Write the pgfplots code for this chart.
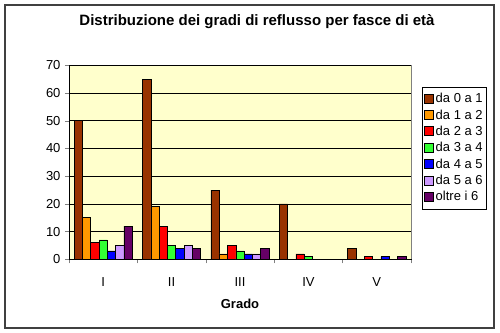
\documentclass[border=0pt]{standalone}
\usepackage{pgfplots}
\pgfplotsset{compat=1.18}
\usepackage{fontspec}
\setmainfont{Liberation Sans}
\definecolor{c1}{HTML}{993300}
\definecolor{c2}{HTML}{FF9900}
\definecolor{c3}{HTML}{FF0000}
\definecolor{c4}{HTML}{33FF33}
\definecolor{c5}{HTML}{0000FF}
\definecolor{c6}{HTML}{CC99FF}
\definecolor{c7}{HTML}{660066}
\definecolor{bgy}{HTML}{FFFFCC}
\begin{document}
\begin{tikzpicture}
\fontsize{13bp}{15bp}\selectfont
\useasboundingbox (0bp,0bp) rectangle (500bp,333bp);
\draw[black!75,line width=1.5bp] (5bp,5bp) rectangle (494bp,328bp);
\node[font=\bfseries\fontsize{15bp}{17bp}\selectfont] at (257bp,311bp) {Distribuzione dei gradi di reflusso per fasce di età};
\begin{axis}[
  at={(69bp,73.7bp)}, anchor=south west,
  scale only axis, width=342bp, height=194bp,
  /pgf/number format/assume math mode=true,
  axis background/.style={fill=bgy},
  ybar=0pt, bar width=8.3bp,
  xmin=-0.5, xmax=4.5, ymin=0, ymax=70,
  ytick={0,10,...,70},
  xtick={0,1,2,3,4}, xticklabels={I,II,III,IV,V},
  minor xtick={-0.5,0.5,1.5,2.5,3.5,4.5},
  major x tick style={draw=none},
  minor tick length=4bp, major tick length=4bp,
  tick align=outside, tick pos=left,
  ymajorgrids, grid style={black, line width=0.6bp},
  minor x grid style={draw=none},
  axis line style={black, line width=0.6bp},
  tick label style={font=\fontsize{13bp}{15bp}\selectfont},
  xticklabel style={yshift=-10bp},
  xlabel={\bfseries Grado}, xlabel style={font=\fontsize{13bp}{15bp}\selectfont, yshift=-3bp},
  legend cell align=left,
  legend style={at={(1.032,0.888)}, anchor=north west, draw=black, line width=0.6bp,
    font=\fontsize{13bp}{15bp}\selectfont, row sep=1bp, inner xsep=2bp, inner ysep=4bp},
  legend image code/.code={\draw[#1, draw=black, line width=0.5bp] (0bp,-4bp) rectangle (9bp,5bp);},
  every axis plot/.append style={draw=black, line width=0.5bp},
  after end axis/.code={\draw[gray, line width=0.8bp] (rel axis cs:1,0) -- (rel axis cs:1,1);},
]
\addplot[fill=c1] coordinates {(0,50) (1,65) (2,25) (3,20) (4,4)};
\addplot[fill=c2] coordinates {(0,15) (1,19) (2,2) (3,0) (4,0)};
\addplot[fill=c3] coordinates {(0,6) (1,12) (2,5) (3,2) (4,1)};
\addplot[fill=c4] coordinates {(0,7) (1,5) (2,3) (3,1) (4,0)};
\addplot[fill=c5] coordinates {(0,3) (1,4) (2,2) (3,0) (4,1)};
\addplot[fill=c6] coordinates {(0,5) (1,5) (2,2) (3,0) (4,0)};
\addplot[fill=c7] coordinates {(0,12) (1,4) (2,4) (3,0) (4,1)};
\legend{da 0 a 1,da 1 a 2,da 2 a 3,da 3 a 4,da 4 a 5,da 5 a 6,oltre i 6}
\end{axis}
\end{tikzpicture}
\end{document}
